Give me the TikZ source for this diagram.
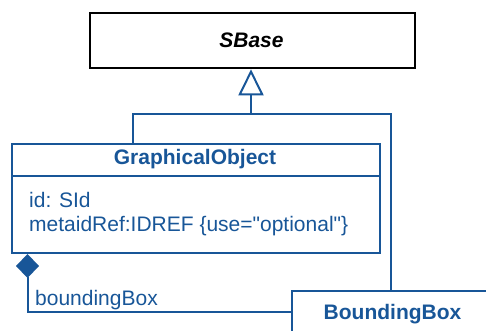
\documentclass[tikz,border=0pt]{standalone}
\usepackage{fontspec}
\setmainfont{Liberation Sans}
\usetikzlibrary{arrows.meta}
\definecolor{umlblue}{RGB}{24,86,152}
\begin{document}
\begin{tikzpicture}[x=1pt,y=-1pt,
  txt/.style={font=\fontsize{21}{24}\selectfont, inner sep=0pt},
  bluebox/.style={draw=umlblue, line width=2pt, anchor=north west, inner sep=0pt},
  blueline/.style={draw=umlblue, line width=2pt},
  gen/.style={blueline, -{Triangle[open, length=26pt, width=25pt, line width=2pt]}},
  comp/.style={blueline, {Diamond[length=24pt, width=23pt, fill=umlblue]}-}]
\useasboundingbox (0,0) rectangle (486,331);
% SBase
\node[draw=black, line width=2.3pt, minimum width=325pt, minimum height=55pt, anchor=north west, inner sep=0pt] (sbase) at (89,12) {};
\node[txt, font=\fontsize{21}{24}\selectfont\bfseries\itshape] (sbasetitle) at (251.5,40) {SBase};
% GraphicalObject
\node[bluebox, minimum width=368pt, minimum height=109.5pt] (go) at (11,142.5) {};
\node[txt, text=umlblue, font=\fontsize{21}{24}\selectfont\bfseries] (gotitle) at (195,159.5) {GraphicalObject};
\coordinate (sepL) at (11,176);
\coordinate (sepR) at (379,176);
\draw[blueline] (sepL) -- (sepR);
\node[txt, text=umlblue, anchor=base west, align=left] (goattr) at (29,231.5) {id: SId\\metaidRef:IDREF \{use=\textquotedbl optional\textquotedbl\}};
% BoundingBox
\node[bluebox, minimum width=220pt, minimum height=60pt] (bb) at (291,290) {};
\node[txt, text=umlblue, font=\fontsize{21}{24}\selectfont\bfseries, anchor=base] (bbtitle) at (392.5,319.3) {BoundingBox};
% generalization
\coordinate (junc) at (251,114);
\coordinate (jl) at (133,114);
\coordinate (jr) at (391,114);
\draw[blueline] (go.north -| jl) -- (jl) -- (jr) -- (bb.north -| jr);
\draw[gen] (junc) -- (sbase.south -| junc);
% composition
\coordinate (corner) at (27.5,311.5);
\draw[comp] (go.south -| corner) -- (corner) -- (corner -| bb.west);
\node[txt, text=umlblue, anchor=base west] (bblabel) at (35,305) {boundingBox};
\end{tikzpicture}
\end{document}
